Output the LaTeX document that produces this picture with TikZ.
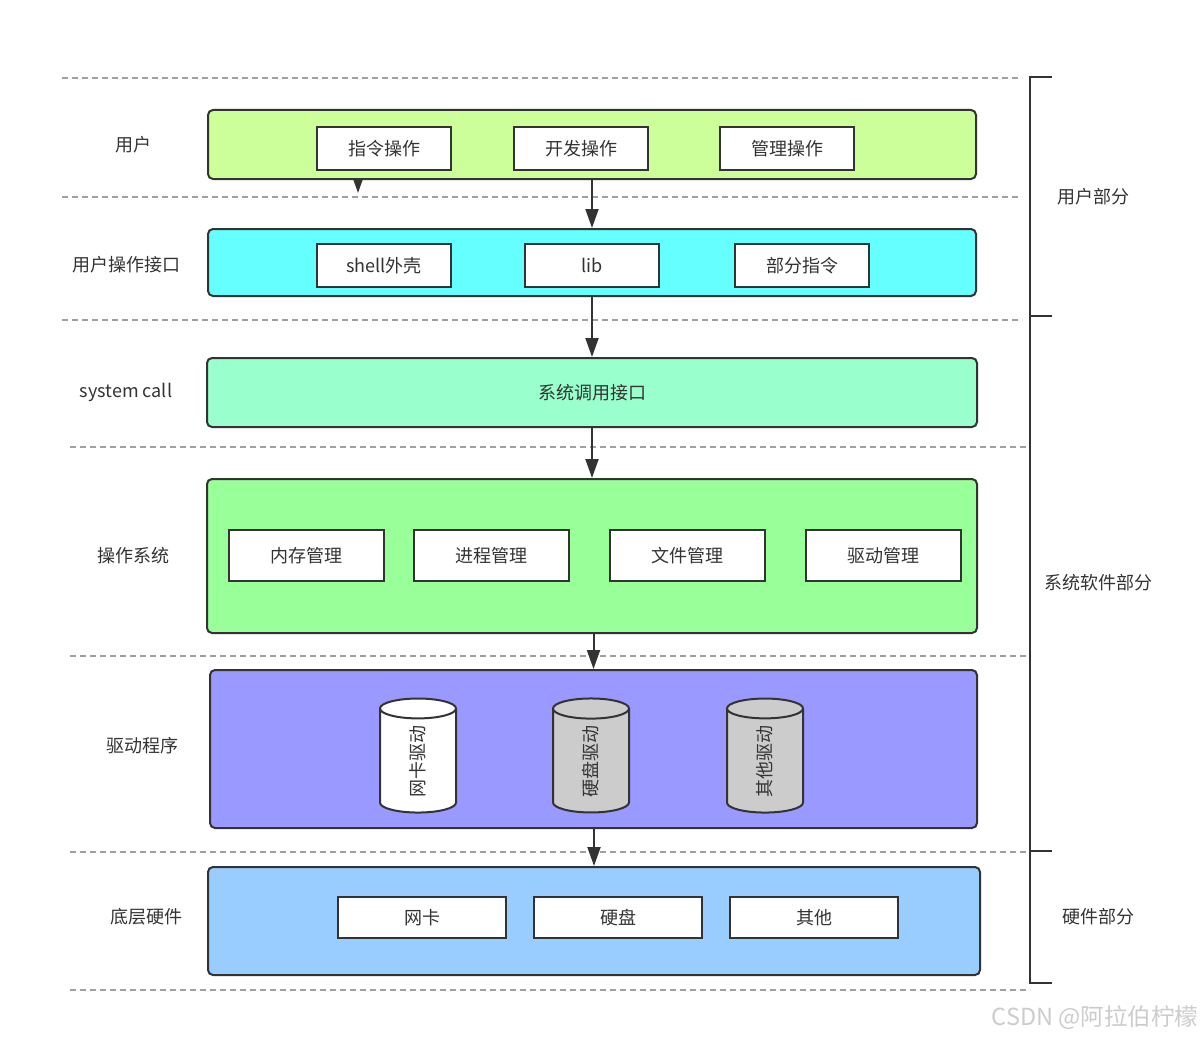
\documentclass[tikz,border=0pt]{standalone}
\usepackage{fontspec}
\setmainfont{Noto Sans CJK SC}
\usepackage{xcolor}
\usepackage{tikz}
\usetikzlibrary{arrows.meta,shapes.geometric,positioning,calc,backgrounds}

\definecolor{lineclr}{HTML}{333333}
\definecolor{textclr}{HTML}{333333}
\definecolor{dashclr}{HTML}{A0A0A0}
\definecolor{userclr}{HTML}{CCFF99}
\definecolor{ifaceclr}{HTML}{66FFFF}
\definecolor{callclr}{HTML}{99FFCC}
\definecolor{osclr}{HTML}{99FF99}
\definecolor{drvclr}{HTML}{9999FF}
\definecolor{hwclr}{HTML}{99CCFF}
\definecolor{diskclr}{HTML}{CCCCCC}

\tikzset{
  layer/.style={draw=lineclr, line width=2pt, rounded corners=5pt, inner sep=0pt, text=textclr},
  item/.style={draw=lineclr, line width=2pt, fill=white, inner sep=0pt, minimum height=43pt, text=textclr},
  drvcyl/.style={cylinder, draw=lineclr, line width=2pt, rotate=90, minimum width=76pt, minimum height=114pt, aspect=1.2, inner sep=0pt, text=textclr},
  sepline/.style={dashclr, line width=1.2pt, dash pattern=on 6pt off 4pt},
  flow/.style={lineclr, line width=2pt, -{Triangle[length=19pt,width=13pt]}},
  tag/.style={text=textclr},
  brace/.style={lineclr, line width=2.5pt}
}

\begin{document}
\begin{tikzpicture}[x=1pt, y=-1pt, font=\fontsize{18}{21}\selectfont]
\useasboundingbox (0,0) rectangle (1202,1038);

% separators
\draw[sepline] (62,78) -- (1022,78);
\draw[sepline] (62,197) -- (1022,197);
\draw[sepline] (62,320) -- (1022,320);
\draw[sepline] (70,447) -- (1030,447);
\draw[sepline] (70,656) -- (1030,656);
\draw[sepline] (70,852) -- (1030,852);
\draw[sepline] (70,990) -- (1030,990);

% layers
\node[layer, fill=userclr, minimum width=768pt, minimum height=69pt] (User) at (592,144.5) {};
\node[layer, fill=ifaceclr, minimum width=768pt, minimum height=67pt] (Iface) at (592,262.5) {};
\node[layer, fill=callclr, minimum width=770pt, minimum height=69pt] (Syscall) at (592,392.5) {系统调用接口};
\node[layer, fill=osclr, minimum width=770pt, minimum height=154pt] (OS) at (592,556) {};
\node[layer, fill=drvclr, minimum width=767pt, minimum height=158pt] (Driver) at (593.5,749) {};
\node[layer, fill=hwclr, minimum width=772pt, minimum height=108pt] (Hardware) at (594,921) {};

% layer names
\node[tag] (UserTag) at (133,145) {用户};
\node[tag] (IfaceTag) at (126,265) {用户操作接口};
\node[tag] (SyscallTag) at (126,392) {system call};
\node[tag] (OSTag) at (133,556) {操作系统};
\node[tag] (DriverTag) at (142,746) {驱动程序};
\node[tag] (HardwareTag) at (146,917) {底层硬件};

% user
\node[item, minimum width=134pt] (CmdOp) at (384,148.5) {指令操作};
\node[item, minimum width=134pt] (DevOp) at (581,148.5) {开发操作};
\node[item, minimum width=134pt] (MgmtOp) at (787,148.5) {管理操作};

% interface
\node[item, minimum width=134pt] (Shell) at (384,265.5) {shell外壳};
\node[item, minimum width=134pt] (Lib) at (592,265.5) {lib};
\node[item, minimum width=134pt] (PartCmd) at (802,265.5) {部分指令};

% os
\node[item, minimum width=155pt, minimum height=51pt] (MemMgmt) at (306.5,555.5) {内存管理};
\node[item, minimum width=155pt, minimum height=51pt] (ProcMgmt) at (491.5,555.5) {进程管理};
\node[item, minimum width=155pt, minimum height=51pt] (FileMgmt) at (687.5,555.5) {文件管理};
\node[item, minimum width=155pt, minimum height=51pt] (DrvMgmt) at (883.5,555.5) {驱动管理};

% drivers
\node[drvcyl, fill=white] (NicDrv) at (418,761) {网卡驱动};
\node[drvcyl, fill=diskclr] (DiskDrv) at (591,761) {硬盘驱动};
\node[drvcyl, fill=diskclr] (OtherDrv) at (765,761) {其他驱动};

% hardware
\node[item, minimum width=168pt, minimum height=41pt] (Nic) at (422,917.5) {网卡};
\node[item, minimum width=168pt, minimum height=41pt] (Disk) at (618,917.5) {硬盘};
\node[item, minimum width=168pt, minimum height=41pt] (Other) at (814,917.5) {其他};

% flow
\coordinate (stubEnd) at (358,193);
\begin{scope}[on background layer]
\draw[flow] (User.center -| stubEnd) -- (stubEnd);
\end{scope}
\draw[flow] (User.south) -- (User.south |- Iface.north);
\draw[flow] (Iface.south) -- (Iface.south |- Syscall.north);
\draw[flow] (Syscall.south) -- (Syscall.south |- OS.north);
\draw[flow] (OS.south -| Driver.north) -- (Driver.north);
\draw[flow] (Driver.south -| Hardware.north) -- (Hardware.north);

% parts
\draw[brace] (1052,77) -- (1030,77) -- (1030,983) -- (1052,983);
\draw[brace] (1030,316) -- (1052,316);
\draw[brace] (1030,851) -- (1052,851);
\node[tag] (UserPart) at (1093,197) {用户部分};
\node[tag] (SysPart) at (1098,583) {系统软件部分};
\node[tag] (HwPart) at (1098,917) {硬件部分};

\node[text=black!20, font=\fontsize{23.5}{27}\selectfont] (Mark) at (1095,1018) {CSDN @阿拉伯柠檬};
\end{tikzpicture}
\end{document}
